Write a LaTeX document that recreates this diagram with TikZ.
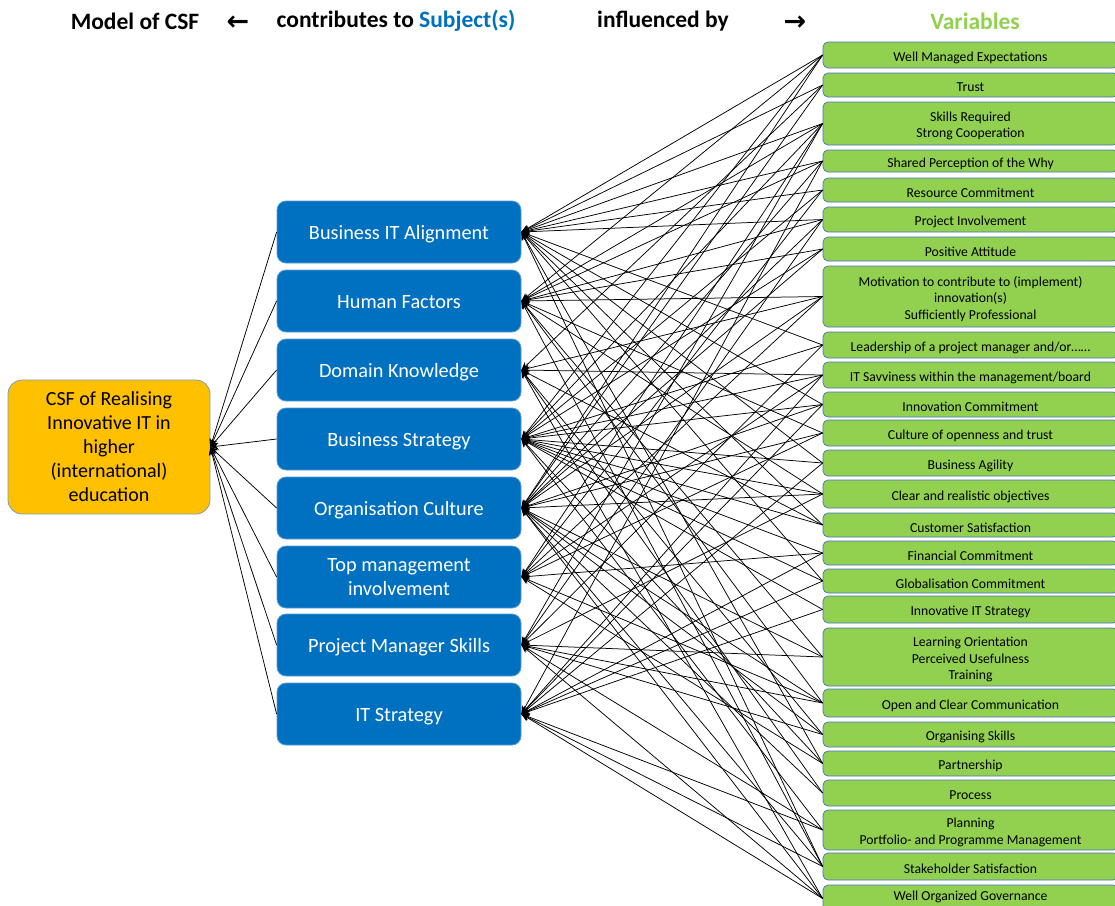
\documentclass[tikz,border=0pt]{standalone}
\usepackage{fontspec}
\setmainfont{Carlito}
\newfontfamily\arrfont{DejaVu Sans}
\usetikzlibrary{arrows.meta}
\definecolor{subjblue}{HTML}{0070C0}
\definecolor{subjborder}{HTML}{5B9BD5}
\definecolor{vargreen}{HTML}{92D050}
\definecolor{varborder}{HTML}{4472C4}
\definecolor{csforange}{HTML}{FFC000}
\definecolor{csfborder}{HTML}{7F9CC0}
\newcommand\varbox[5][2.5]{%
  \node[var, minimum height=#4pt] (#2) at (970.5,#3) {};
  \node[vtext] (#2t) at (970.5,#3+#1) {#5};}
\begin{document}
\begin{tikzpicture}[x=1pt,y=-1pt,
  hdr/.style={font=\bfseries\fontsize{23.5}{26}\selectfont, inner sep=0pt, anchor=center},
  arr/.style={font=\arrfont\bfseries\fontsize{27}{28}\selectfont, inner sep=0pt, anchor=center},
  csfbox/.style={draw=csfborder, line width=0.8pt, fill=csforange, rounded corners=14pt, minimum width=202pt, minimum height=134pt, align=center, font=\fontsize{20}{24}\selectfont, inner sep=0pt},
  subj/.style={draw=subjborder, line width=0.8pt, fill=subjblue, text=white, rounded corners=9pt, minimum width=244pt, minimum height=62pt, align=center, font=\fontsize{20.3}{24}\selectfont, inner sep=0pt},
  subj1/.style={subj, text height=15pt, text depth=0pt},
  var/.style={draw=varborder, line width=0.7pt, fill=vargreen, rounded corners=5pt, minimum width=295pt, inner sep=0pt},
  vtext/.style={align=center, font=\fontsize{13.7}{16.3}\selectfont, inner sep=0pt},
  conn/.style={draw=black, line width=0.75pt, -{Stealth[length=8pt,width=7pt]}}
]
\useasboundingbox (0,0) rectangle (1115,905);

% header
\node[hdr] (h1) at (135,21) {Model of CSF};
\node[arr] (h2) at (238,23) {←};
\node[hdr] (h3) at (396,21) {contributes to \textcolor{subjblue}{Subject(s)}};
\node[hdr] (h4) at (663,21) {influenced by};
\node[arr] (h5) at (795,23) {→};
\node[hdr, text=vargreen] (h6) at (975,21) {Variables};

% CSF
\node[csfbox] (csf) at (109,447) {CSF of Realising\\Innovative IT in\\higher\\(international)\\education};

% subjects
\node[subj1] (s1) at (399,232) {Business IT Alignment};
\node[subj1] (s2) at (399,301) {Human Factors};
\node[subj1] (s3) at (399,370) {Domain Knowledge};
\node[subj1] (s4) at (399,439) {Business Strategy};
\node[subj1] (s5) at (399,508) {Organisation Culture};
\node[subj] (s6) at (399,577) {Top management\\involvement};
\node[subj1] (s7) at (399,645) {Project Manager Skills};
\node[subj1] (s8) at (399,714) {IT Strategy};

% variables
\varbox{v1}{55}{26}{Well Managed Expectations}
\varbox{v2}{85}{24}{Trust}
\varbox{v3}{123.5}{43}{Skills Required\\Strong Cooperation}
\varbox{v4}{161}{22}{Shared Perception of the Why}
\varbox{v5}{190}{24}{Resource Commitment}
\varbox{v6}{219.5}{25}{Project Involvement}
\varbox{v7}{249}{24}{Positive Attitude}
\varbox{v8}{296.5}{61}{Motivation to contribute to (implement)\\innovation(s)\\Sufficiently Professional}
\varbox{v9}{345}{26}{Leadership of a project manager and/or\ldots\ldots}
\varbox{v10}{375}{26}{IT Savviness within the management/board}
\varbox{v11}{404.5}{25}{Innovation Commitment}
\varbox{v12}{433}{26}{Culture of openness and trust}
\varbox{v13}{463}{26}{Business Agility}
\varbox{v14}{494}{28}{Clear and realistic objectives}
\varbox{v15}{525}{24}{Customer Satisfaction}
\varbox{v16}{553}{24}{Financial Commitment}
\varbox{v17}{581}{24}{Globalisation Commitment}
\varbox{v18}{609.5}{27}{Innovative IT Strategy}
\varbox{v19}{657}{58}{Learning Orientation\\Perceived Usefulness\\Training}
\varbox{v20}{703}{28}{Open and Clear Communication}
\varbox{v21}{734.5}{25}{Organising Skills}
\varbox{v22}{763.5}{25}{Partnership}
\varbox{v23}{793}{26}{Process}
\varbox{v24}{830}{40}{Planning\\Portfolio- and Programme Management}
\varbox{v25}{866.5}{27}{Stakeholder Satisfaction}
\varbox[-2]{v26}{898.5}{27}{Well Organized Governance}

% subjects -> CSF
\foreach \s in {1,...,8} \draw[conn] (s\s.west) -- (csf.east);

% variables -> subjects
\foreach \v/\s in {
 1/1,1/2,1/4,1/5,
 2/1,2/3,2/5,
 3/1,3/2,3/4,3/6,3/7,
 4/1,4/2,4/5,4/8,
 5/1,5/4,5/6,
 6/1,6/2,6/5,6/7,
 7/2,7/4,7/5,
 8/2,8/3,8/5,8/6,
 9/1,9/4,9/7,
 10/3,10/4,10/6,10/8,
 11/1,11/4,11/5,11/8,
 12/2,12/5,12/6,
 13/1,13/4,13/8,
 14/2,14/4,14/5,14/7,
 15/1,15/3,15/4,
 16/4,16/6,16/8,
 17/1,17/4,17/8,
 18/4,18/8,
 19/2,19/5,19/7,
 20/2,20/5,20/6,20/7,
 21/3,21/5,21/7,
 22/1,22/4,22/6,
 23/3,23/5,
 24/4,24/7,24/8,
 25/1,25/2,25/5,25/8,
 26/3,26/5,26/7,26/8}
 \draw[conn] (v\v.west) -- (s\s.east);
\end{tikzpicture}
\end{document}
